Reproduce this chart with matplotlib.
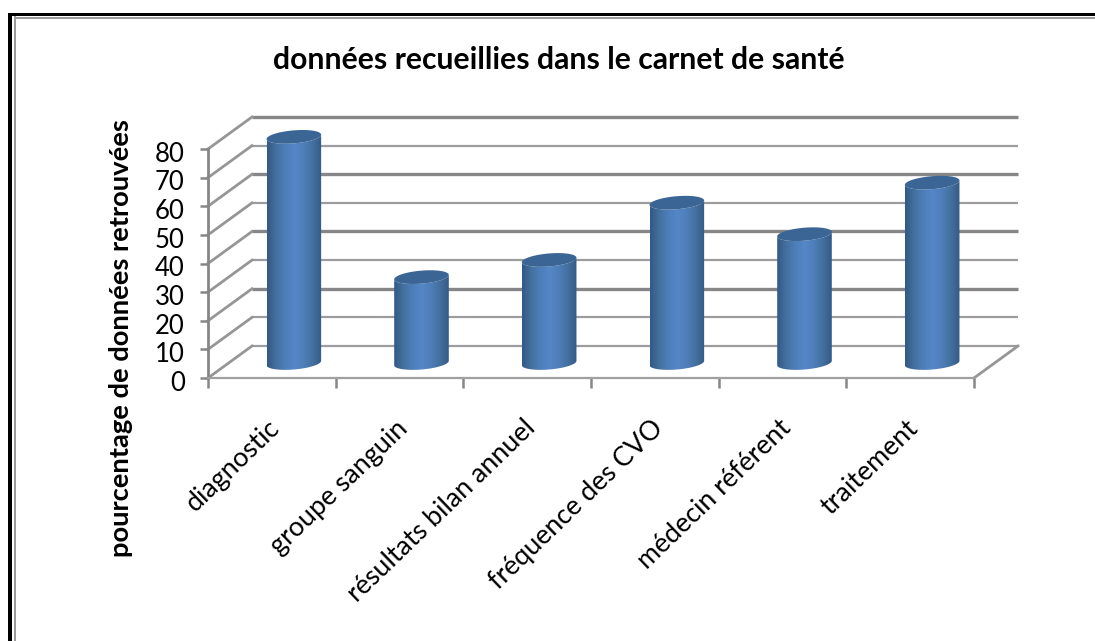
import numpy as np
import matplotlib
matplotlib.use('Agg')
import matplotlib.pyplot as plt
from matplotlib.colors import LinearSegmentedColormap
from matplotlib.lines import Line2D
from matplotlib.patches import Polygon, Rectangle
from matplotlib.transforms import ScaledTranslation

categories = ['diagnostic', 'groupe sanguin', 'résultats bilan annuel',
              'fréquence des CVO', 'médecin référent', 'traitement']
values = [79, 30, 36, 56, 45, 63]
y_ticks = [0, 10, 20, 30, 40, 50, 60, 70, 80]
title = 'données recueillies dans le carnet de santé'
y_label = 'pourcentage de données retrouvées'

plt.rcParams['font.family'] = ['Lato', 'DejaVu Sans']

W, H = 1095, 641
GRID = '#868686'
fig = plt.figure(figsize=(W / 100, H / 100), dpi=100)
ax = fig.add_axes([208 / W, 1 - 378 / H, (974 - 208) / W, (378 - 149) / H])
ax.set_xlim(0.5, 6.5)
ax.set_ylim(0, 80)
ax.patch.set_alpha(0)

# depth of the fake 3d box, in data units
px_x = 6 / (974 - 208)
px_y = 80 / (378 - 149)
dx, dy = 44 * px_x, 32 * px_y

# back wall and side wall, every second line is thicker like in the original
for i, v in enumerate(y_ticks):
    thin = v in (0, 10, 30, 50, 70)
    color = '#9c9c9c' if thin else GRID
    ax.plot([0.5 + dx, 6.5 + dx], [v + dy, v + dy], color=color, lw=1.6 if thin else 2.4,
            clip_on=False, zorder=1, solid_capstyle='butt')
    ax.plot([0.5, 0.5 + dx], [v, v + dy], color='#969696', lw=2.0,
            clip_on=False, zorder=1)
ax.plot([6.5, 6.5 + dx], [0, dy], color='#969696', lw=2.0, clip_on=False, zorder=1)

# cylinders
cmap = LinearSegmentedColormap.from_list(
    'cyl', ['#335884', '#44709f', '#4e7eb9', '#5586c6', '#4f7fba', '#44709f', '#355a86'])
gradient = np.linspace(0, 1, 256).reshape(1, -1)
half_w = 27.3 * px_x
minor = 6.5 * px_y
tilt = 2.2 * px_y
t = np.linspace(0, 2 * np.pi, 121)

for i, v in enumerate(values):
    cx = i + 1 + dx / 2
    base = 15 * px_y
    top = v + base
    xs = cx + half_w * np.cos(t)
    high = top + minor * np.sin(t) + tilt * np.cos(t)
    half = t[60:121]  # lower half of the ellipse
    body_x = np.r_[cx + half_w * np.cos(half),
                   cx + half_w * np.cos(half[::-1])]
    body_y = np.r_[base + minor * np.sin(half) + tilt * np.cos(half),
                   top + minor * np.sin(half[::-1]) + tilt * np.cos(half[::-1])]
    body = Polygon(np.c_[body_x, body_y], closed=True, transform=ax.transData,
                   fc='none', ec='none')
    ax.add_patch(body)
    im = ax.imshow(gradient, cmap=cmap, aspect='auto', zorder=3,
                   extent=(cx - half_w, cx + half_w, base - minor * 2, top + minor * 2))
    im.set_clip_path(body)
    im.set_clip_box(fig.bbox)  # first bar goes above the axes box
    ax.fill(xs, high, color='#3b6595', zorder=4, lw=0, clip_on=False)

ax.set_xlim(0.5, 6.5)
ax.set_ylim(0, 80)

# axes
for side in ('top', 'right'):
    ax.spines[side].set_visible(False)
ax.spines['left'].set_color(GRID)
ax.spines['left'].set_linewidth(2.0)
ax.spines['bottom'].set_color('#a0a0a0')
ax.spines['bottom'].set_linewidth(1.6)
ax.set_yticks(y_ticks)
ax.set_xticks(np.arange(0.5, 7, 1))
ax.set_xticklabels([])
ax.set_xticks(np.arange(1, 7), minor=True)
ax.set_xticklabels(categories, minor=True, rotation=44, ha='right',
                   rotation_mode='anchor', fontsize=19.3, color='#000000')
ax.tick_params(axis='x', which='major', length=7, width=1.8, color=GRID, direction='out')
ax.tick_params(axis='x', which='minor', length=0, pad=27)
ax.tick_params(axis='y', length=5.8, width=1.8, color=GRID, pad=11, labelsize=18.5,
               labelcolor='#000000')
shift = ScaledTranslation(-3 / 72, 0, fig.dpi_scale_trans)
for lab in ax.get_xticklabels(minor=True):
    lab.set_transform(lab.get_transform() + shift)
down = ScaledTranslation(0, -2 / 72, fig.dpi_scale_trans)
for lab in ax.get_yticklabels():
    lab.set_transform(lab.get_transform() + down)

fig.text(559 / W, 1 - 60 / H, title, ha='center', va='center', fontsize=21.7,
         fontweight='bold', color='#000000')
fig.text(121 / W, 1 - 338 / H, y_label, rotation=90, ha='center', va='center',
         fontsize=19.7, fontweight='bold', color='#000000')

# page frame: black rule plus thin grey one inside it
fig.add_artist(Rectangle((8 / W, 1 - 16 / H), (W - 8) / W, 3 / H, transform=fig.transFigure,
                         fc='black', ec='none'))
fig.add_artist(Rectangle((8 / W, 0), 4 / W, 1 - 13 / H, transform=fig.transFigure,
                         fc='black', ec='none'))
fig.add_artist(Line2D([15 / W, 15 / W], [0, 1 - 17 / H], color='#9a9a9a', lw=1.4))
fig.add_artist(Line2D([15 / W, 1], [1 - 17.5 / H, 1 - 17.5 / H], color='#9a9a9a', lw=1.4))

fig.savefig('out.png', dpi=100)
